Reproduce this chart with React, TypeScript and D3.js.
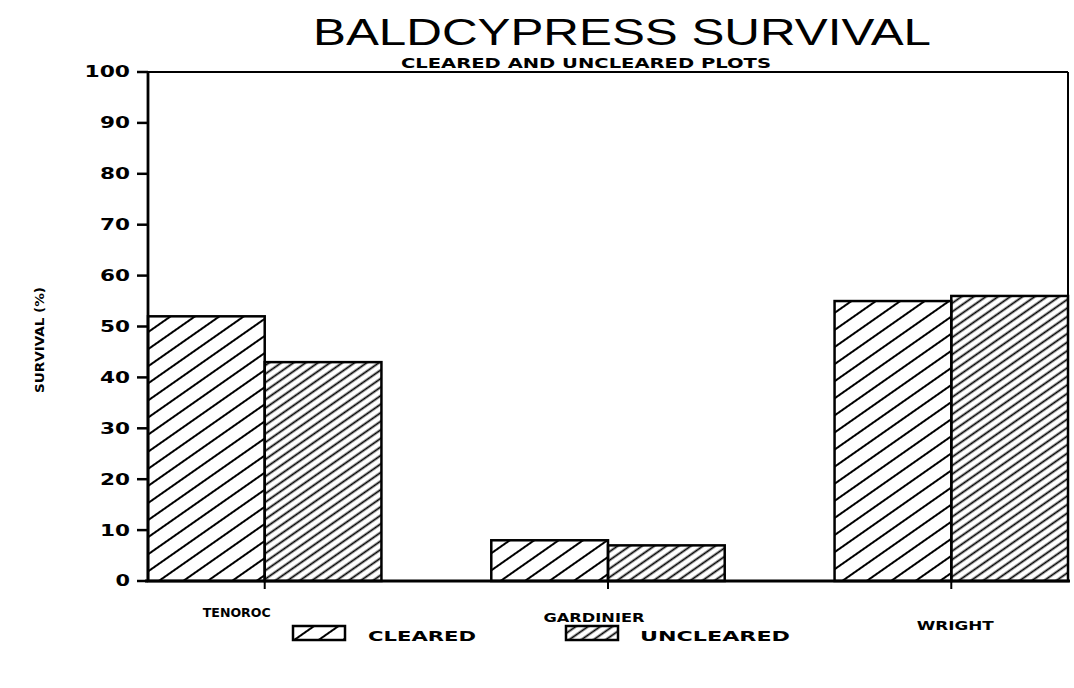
import React from "react";
import * as d3 from "d3";

const sites = ["TENOROC", "GARDINIER", "WRIGHT"];
const seriesNames = ["CLEARED", "UNCLEARED"];
const clearedValues = [52, 8, 55];
const unclearedValues = [43, 7, 56];
const yTicks = [0, 10, 20, 30, 40, 50, 60, 70, 80, 90, 100];

const W = 1074;
const H = 688;
const left = 148;
const right = 1068;
const top = 72;
const bottom = 581;

const boldFont = "'DejaVu Sans', 'Liberation Sans', Arial, sans-serif";

export default function App() {
  const x = d3.scaleBand<string>().domain(sites).range([left, right]).paddingInner(0.32).paddingOuter(0);
  const xs = d3.scaleBand<string>().domain(seriesNames).range([0, x.bandwidth()]).padding(0);
  const y = d3.scaleLinear().domain([0, 100]).range([bottom, top]);
  const seriesValues = [clearedValues, unclearedValues];
  const patterns = ["hatchWide", "hatchNarrow"];
  const labelOffsets = [-28, -14, 4];
  const labelY = [617, 622, 630];
  const labelWidths = [68, 101, 77];

  return (
    <svg width={W} height={H} style={{ position: "absolute", left: 0, top: 0, background: "#fff" }}
      fontFamily="'Liberation Sans', Arial, sans-serif">
      <defs>
        <pattern id="hatchWide" patternUnits="userSpaceOnUse" width="20" height="14" patternTransform="rotate(-35)">
          <line x1="0" x2="20" y1="7" y2="7" stroke="#000" strokeWidth="2" />
        </pattern>
        <pattern id="hatchNarrow" patternUnits="userSpaceOnUse" width="20" height="7" patternTransform="rotate(-35)">
          <line x1="0" x2="20" y1="3.5" y2="3.5" stroke="#000" strokeWidth="1.8" />
        </pattern>
      </defs>
      <rect x={0} y={0} width={W} height={H} fill="#fff" />

      {/* title */}
      <text x={622} y={45} textAnchor="middle" fontSize={37} fontWeight={400}
        textLength={618} lengthAdjust="spacingAndGlyphs">BALDCYPRESS SURVIVAL</text>
      <text x={586} y={68} textAnchor="middle" fontSize={14} fontWeight={700} fontFamily={boldFont}
        textLength={370} lengthAdjust="spacingAndGlyphs">CLEARED AND UNCLEARED PLOTS</text>

      {/* bars */}
      {sites.map((s, i) => (
        <g key={s}>
          {seriesNames.map((n, j) => {
            const v = seriesValues[j][i];
            const bx = (x(s) as number) + (xs(n) as number);
            return (
              <rect key={n} x={bx} y={y(v)} width={xs.bandwidth()} height={y(0) - y(v)}
                fill={`url(#${patterns[j]})`} stroke="#000" strokeWidth={2.5} />
            );
          })}
        </g>
      ))}

      {/* frame */}
      <line x1={left} x2={right} y1={top} y2={top} stroke="#000" strokeWidth={2} />
      <line x1={right} x2={right} y1={top} y2={bottom} stroke="#000" strokeWidth={2} />
      <line x1={left} x2={left} y1={top} y2={bottom} stroke="#000" strokeWidth={2.8} />
      <line x1={left - 3} x2={right + 2} y1={bottom} y2={bottom} stroke="#000" strokeWidth={2.8} />

      {/* y ticks */}
      {yTicks.map((t) => {
        const n = String(t).length;
        return (
          <g key={t} transform={`translate(0,${y(t)})`}>
            <line x1={left - 11} x2={left} y1={0} y2={0} stroke="#000" strokeWidth={2.5} />
            <text x={left - 18} y={0} dy="0.36em" textAnchor="end" fontSize={15} fontWeight={700}
              fontFamily={boldFont} textLength={n * 15.5 - 1} lengthAdjust="spacingAndGlyphs">{t}</text>
          </g>
        );
      })}

      {/* x ticks and labels */}
      {sites.map((s, i) => {
        const cx = (x(s) as number) + x.bandwidth() / 2;
        return (
          <g key={s}>
            <line x1={cx} x2={cx} y1={bottom} y2={bottom + 8} stroke="#000" strokeWidth={2} />
            <text x={cx + labelOffsets[i]} y={labelY[i]} textAnchor="middle" fontSize={13} fontWeight={700}
              fontFamily={boldFont} textLength={labelWidths[i]} lengthAdjust="spacingAndGlyphs">{s}</text>
          </g>
        );
      })}

      {/* y label */}
      <text transform={`translate(44,340) rotate(-90)`} textAnchor="middle" fontSize={13} fontWeight={700}
        fontFamily={boldFont} textLength={106} lengthAdjust="spacingAndGlyphs">SURVIVAL (%)</text>

      {/* legend */}
      {seriesNames.map((n, j) => {
        const lx = [293, 566][j];
        const tx = [368, 640][j];
        const tw = [108, 150][j];
        return (
          <g key={n}>
            <rect x={lx} y={626} width={52} height={14} fill={`url(#${patterns[j]})`} stroke="#000" strokeWidth={2.5} />
            <text x={tx} y={641} fontSize={14} fontWeight={700} fontFamily={boldFont}
              textLength={tw} lengthAdjust="spacingAndGlyphs">{n}</text>
          </g>
        );
      })}
    </svg>
  );
}
